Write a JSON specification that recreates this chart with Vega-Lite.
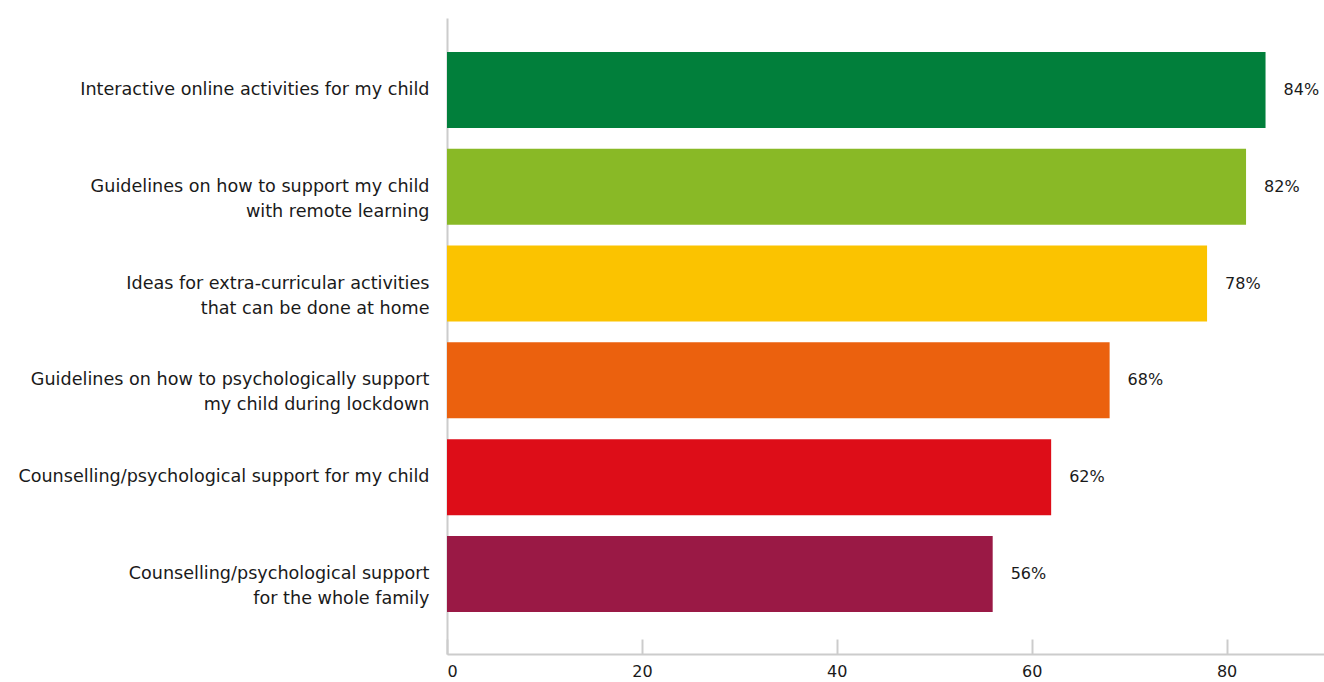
{
  "$schema": "https://vega.github.io/schema/vega-lite/v6.json",
  "autosize": {"type": "none"},
  "padding": {"left": 447, "top": 18, "right": 0, "bottom": 28},
  "width": 877,
  "height": 636,
  "background": "white",
  "config": {
    "view": {"stroke": null},
    "font": "DejaVu Sans"
  },
  "data": {
    "values": [
      {"item": "Interactive online activities for my child", "value": 84, "color": "#017f3b"},
      {"item": "Guidelines on how to support my child|with remote learning", "value": 82, "color": "#89b926"},
      {"item": "Ideas for extra-curricular activities|that can be done at home", "value": 78, "color": "#fbc300"},
      {"item": "Guidelines on how to psychologically support|my child during lockdown", "value": 68, "color": "#eb610e"},
      {"item": "Counselling/psychological support for my child", "value": 62, "color": "#dd0d18"},
      {"item": "Counselling/psychological support|for the whole family", "value": 56, "color": "#9a1945"}
    ]
  },
  "transform": [{"calculate": "datum.value + '%'", "as": "label"}],
  "encoding": {
    "y": {
      "field": "item",
      "type": "nominal",
      "sort": null,
      "scale": {"paddingInner": 0.215, "paddingOuter": 0.393, "align": 0.447},
      "axis": {
        "title": null,
        "ticks": false,
        "domainColor": "#cccccc",
        "domainWidth": 2,
        "labelPadding": 18,
        "labelFontSize": 17.6,
        "labelColor": "#1a1a1a",
        "labelLimit": 0,
        "labelLineHeight": 25,
        "labelExpr": "split(datum.label, '|')"
      }
    },
    "x": {
      "field": "value",
      "type": "quantitative",
      "scale": {"domain": [0, 90], "nice": false},
      "axis": {
        "title": null,
        "values": [0, 20, 40, 60, 80],
        "grid": false,
        "domainColor": "#cccccc",
        "domainWidth": 2,
        "tickColor": "#cccccc",
        "tickWidth": 2,
        "tickSize": -15,
        "labelPadding": 24,
        "labelFontSize": 16,
        "labelColor": "#1a1a1a"
      }
    }
  },
  "layer": [
    {
      "mark": {"type": "bar"},
      "encoding": {
        "color": {"field": "color", "type": "nominal", "scale": null, "legend": null}
      }
    },
    {
      "mark": {"type": "text", "align": "left", "baseline": "middle", "dx": 18, "fontSize": 16, "color": "#1a1a1a"},
      "encoding": {"text": {"field": "label", "type": "nominal"}}
    }
  ]
}
